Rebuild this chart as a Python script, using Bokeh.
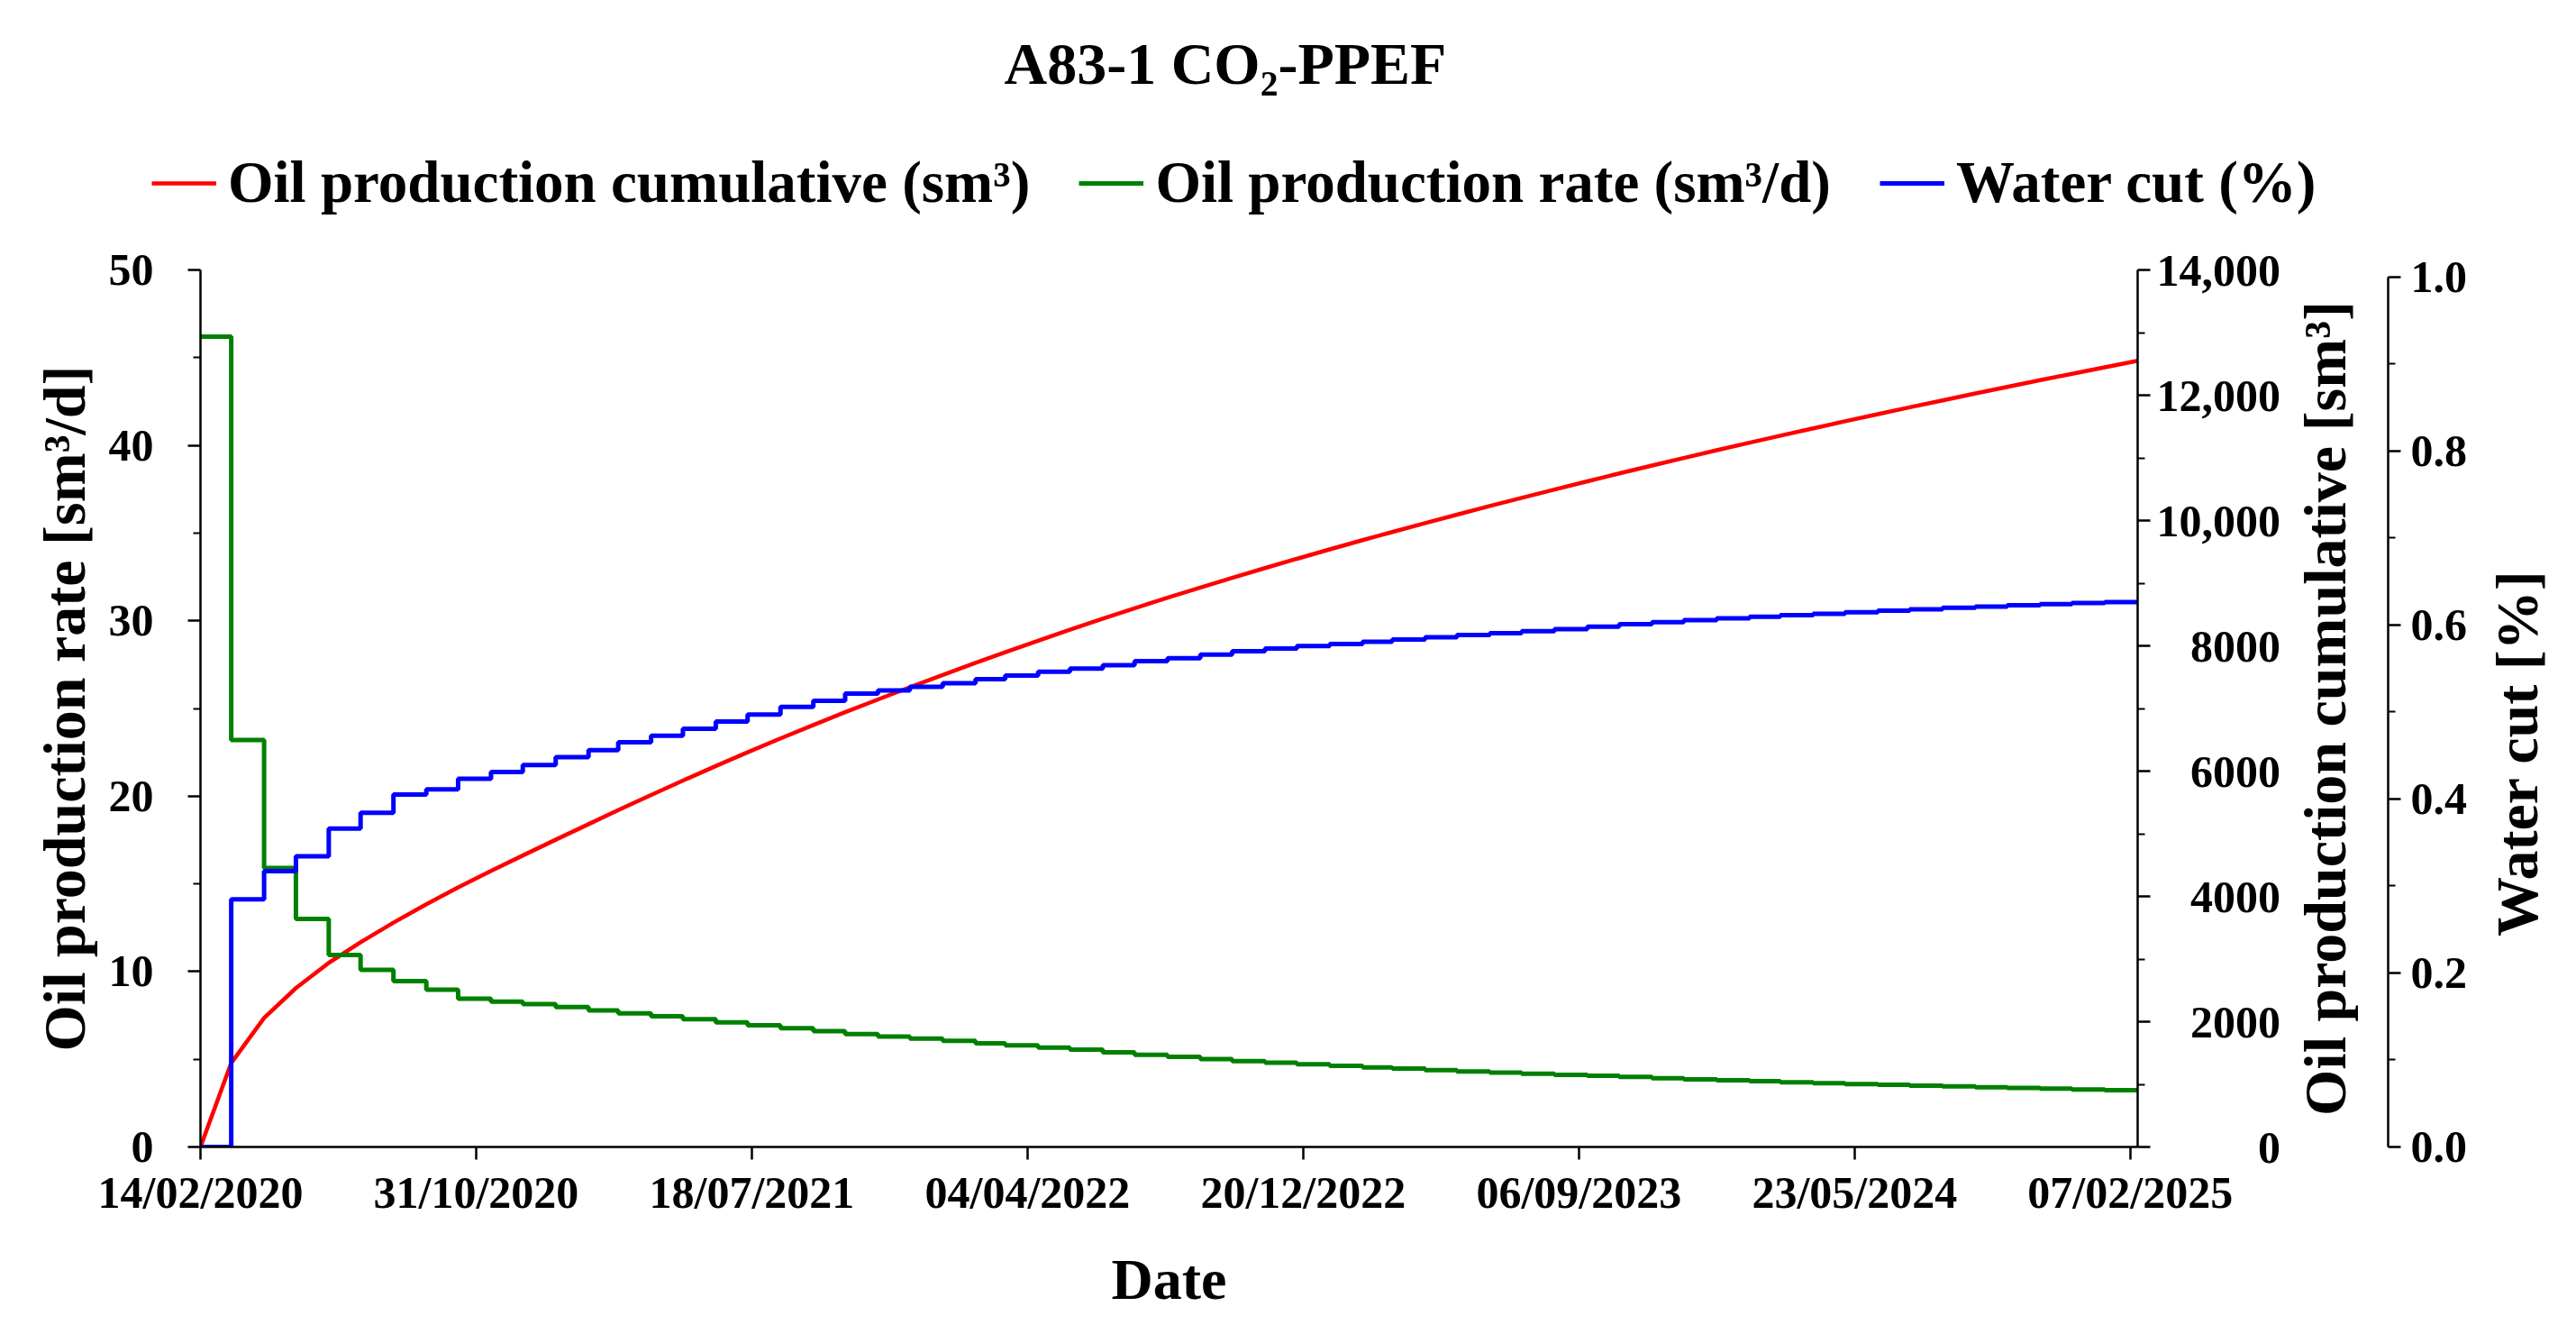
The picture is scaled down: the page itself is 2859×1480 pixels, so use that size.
import pandas as pd
from bokeh.plotting import figure
from bokeh.layouts import column, row
from bokeh.models import (Range1d, LinearAxis, FixedTicker, Legend, LegendItem,
                          DatetimeTickFormatter)
from bokeh.embed import file_html
from bokeh.resources import INLINE

# ---------------- data ----------------
start_date = "2020-02-14"
end_date = "2025-02-14"
n_months = 60
x_tick_labels = ["14/02/2020", "31/10/2020", "18/07/2021", "04/04/2022",
                 "20/12/2022", "06/09/2023", "23/05/2024", "07/02/2025"]

# monthly oil production rate (sm3/d), one value per month
oil_rate = [46.2, 23.2, 15.9, 13.0, 10.95, 10.1, 9.45, 8.97, 8.45, 8.28, 8.14, 7.98,
            7.78, 7.62, 7.45, 7.28, 7.11, 6.94, 6.77, 6.60, 6.43, 6.30, 6.18, 6.05,
            5.91, 5.79, 5.67, 5.55, 5.40, 5.26, 5.14, 5.01, 4.90, 4.81, 4.72, 4.62,
            4.53, 4.47, 4.38, 4.31, 4.24, 4.17, 4.11, 4.06, 3.99, 3.92, 3.86, 3.80,
            3.75, 3.69, 3.64, 3.59, 3.54, 3.49, 3.45, 3.40, 3.36, 3.33, 3.28, 3.24]

# monthly water cut (fraction)
water_cut = [0.0, 0.2845, 0.317, 0.334, 0.366, 0.384, 0.405, 0.411, 0.423, 0.431, 0.439, 0.448,
             0.456, 0.465, 0.4725, 0.4805, 0.489, 0.497, 0.5057, 0.5126, 0.5209, 0.5247, 0.5288, 0.533,
             0.5375, 0.5417, 0.5461, 0.5497, 0.5537, 0.5582, 0.5617, 0.5658, 0.5696, 0.5727, 0.5755, 0.5779,
             0.5806, 0.5831, 0.5858, 0.5883, 0.5904, 0.5927, 0.5951, 0.5979, 0.6007, 0.6031, 0.6055, 0.6076,
             0.6093, 0.6111, 0.6127, 0.6145, 0.6162, 0.6179, 0.6197, 0.6210, 0.6224, 0.6238, 0.6251, 0.6262]

# cumulative oil production (sm3) at each month boundary
oil_cum = [0, 1340, 2059, 2536, 2939, 3268, 3581, 3874, 4143, 4405, 4653, 4905, 5153,
           5377, 5619, 5849, 6081, 6300, 6521, 6736, 6940, 7144, 7338, 7535, 7727,
           7898, 8082, 8256, 8433, 8600, 8767, 8931, 9085, 9241, 9389, 9540, 9687,
           9817, 9959, 10094, 10232, 10362, 10495, 10626, 10751, 10878, 10999, 11122, 11243,
           11354, 11472, 11584, 11698, 11807, 11918, 12028, 12133, 12240, 12342, 12447, 12550]

rate_ticks = [0, 10, 20, 30, 40, 50]
rate_minor = [5, 15, 25, 35, 45]
cum_ticks = [0, 2000, 4000, 6000, 8000, 10000, 12000, 14000]
cum_tick_labels = ["0", "2000", "4000", "6000", "8000", "10,000", "12,000", "14,000"]
cum_minor = [1000, 3000, 5000, 7000, 9000, 11000, 13000]
wc_ticks = [0.0, 0.2, 0.4, 0.6, 0.8, 1.0]
wc_tick_labels = ["0.0", "0.2", "0.4", "0.6", "0.8", "1.0"]
wc_minor = [0.1, 0.3, 0.5, 0.7, 0.9]

legend_labels = ["Oil production cumulative (sm³)", "Oil production rate (sm³/d)", "Water cut (%)"]
title_text = "A83-1 CO₂-PPEF"
x_label = "Date"
rate_label = "Oil production rate [sm³/d]"
cum_label = "Oil production cumulative [sm³]"
wc_label = "Water cut [%]"

colors = {"cum": "#ff0000", "rate": "#008000", "wc": "#0000ff"}
widths = {"cum": 4.5, "rate": 5, "wc": 5}

# ---------------- layout constants (page pixels) ----------------
FONT = "Liberation Serif"
W, H = 2843, 1464
HEAD_H = 250                      # header (title + legend) height
FL, FR, FT, FB = 222, 2372, 299, 1272   # main frame edges
MAIN_W = 2540
R2_W, R2_FL, WC_X = 210, 2630, 2650     # panel holding cumulative title + water-cut axis
R3_W = W - MAIN_W - R2_W
ROW_H = H - HEAD_H
FS, PS = "\u2007", "\u2008"   # figure / punctuation spaces


def style(ax, label_size="66px"):
    ax.axis_line_color = "black"
    ax.axis_line_width = 2.5
    ax.major_tick_line_color = "black"
    ax.minor_tick_line_color = "black"
    ax.major_tick_line_width = 2.5
    ax.minor_tick_line_width = 2
    ax.major_tick_in = 0
    ax.major_tick_out = 14
    ax.minor_tick_in = 0
    ax.minor_tick_out = 8
    ax.major_label_text_font = FONT
    ax.major_label_text_font_style = "bold"
    ax.major_label_text_font_size = "50px"
    ax.major_label_text_color = "black"
    ax.axis_label_text_font = FONT
    ax.axis_label_text_font_style = "bold"
    ax.axis_label_text_font_size = label_size
    ax.axis_label_text_color = "black"


def title_only_axis(text, standoff):
    ax = LinearAxis(ticker=FixedTicker(ticks=[]), axis_label=text)
    style(ax)
    ax.axis_line_color = None
    ax.major_tick_line_color = None
    ax.minor_tick_line_color = None
    ax.major_tick_out = 0
    ax.minor_tick_out = 0
    ax.major_label_standoff = 0
    ax.axis_label_standoff = standoff
    return ax


def blank(fig):
    fig.outline_line_color = None
    fig.background_fill_color = "white"
    fig.border_fill_color = "white"
    fig.grid.visible = False


# ---------------- main plot ----------------
months = pd.date_range(start_date, periods=n_months + 1, freq=pd.DateOffset(months=1))
x_ticks = [pd.to_datetime(s, format="%d/%m/%Y") for s in x_tick_labels]
x_tick_ms = [t.value / 1e6 for t in x_ticks]
t0, t1 = pd.Timestamp(start_date), pd.Timestamp(end_date)

p = figure(width=MAIN_W, height=ROW_H, x_axis_type="datetime",
           output_backend="svg", toolbar_location=None,
           x_range=Range1d(t0, t1), y_range=Range1d(0, 50),
           min_border_left=FL, min_border_right=MAIN_W - FR,
           min_border_top=FT - HEAD_H, min_border_bottom=H - FB)
blank(p)
p.extra_y_ranges = {"cum": Range1d(0, 14000), "wc": Range1d(0, 1.0078)}

rate_y = oil_rate + [oil_rate[-1]]
wc_y = water_cut + [water_cut[-1]]
r_cum = p.line(months, oil_cum, line_color=colors["cum"], line_width=widths["cum"], y_range_name="cum")
r_rate = p.step(months, rate_y, mode="after", line_color=colors["rate"], line_width=widths["rate"])
r_wc = p.step(months, wc_y, mode="after", line_color=colors["wc"], line_width=widths["wc"],
              y_range_name="wc")

xa = p.xaxis[0]
style(xa, "64px")
xa.ticker = FixedTicker(ticks=x_tick_ms)
fmt = "%d/%m/%Y"
xa.formatter = DatetimeTickFormatter(microseconds=fmt, milliseconds=fmt, seconds=fmt, minsec=fmt,
                                     minutes=fmt, hourmin=fmt, hours=fmt, days=fmt,
                                     months=fmt, years=fmt)
xa.axis_label = x_label
xa.major_label_standoff = 8
xa.axis_label_standoff = 30

ya = p.yaxis[0]
style(ya)
ya.ticker = FixedTicker(ticks=rate_ticks, minor_ticks=rate_minor)
ya.axis_label = rate_label
ya.major_label_standoff = 38
ya.axis_label_standoff = 10


def pad(lbl, ref="14,000"):
    nd = sum(c.isdigit() for c in ref) - sum(c.isdigit() for c in lbl)
    nc = ref.count(",") - lbl.count(",")
    return FS * nd + PS * nc + lbl


cum_axis = LinearAxis(y_range_name="cum",
                      ticker=FixedTicker(ticks=cum_ticks, minor_ticks=cum_minor),
                      major_label_overrides={t: pad(l) for t, l in zip(cum_ticks, cum_tick_labels)})
style(cum_axis)
cum_axis.major_label_standoff = 7
p.add_layout(cum_axis, "right")

# ---------------- right panel 2: cumulative title + water-cut axis ----------------
r2 = figure(width=R2_W, height=ROW_H, output_backend="svg", toolbar_location=None,
            x_range=Range1d(0, 1), y_range=Range1d(0, 1.0078),
            x_axis_location=None, y_axis_location=None,
            min_border_left=R2_FL - MAIN_W, min_border_right=MAIN_W + R2_W - WC_X,
            min_border_top=FT - HEAD_H, min_border_bottom=H - FB)
blank(r2)
r2.add_layout(title_only_axis(cum_label, 18), "left")
wc_axis = LinearAxis(bounds=(0, 1),
                     ticker=FixedTicker(ticks=wc_ticks, minor_ticks=wc_minor),
                     major_label_overrides={t: l for t, l in zip(wc_ticks, wc_tick_labels)})
style(wc_axis)
wc_axis.major_label_standoff = 11
r2.add_layout(wc_axis, "right")

# ---------------- right panel 3: water-cut title (shifted down with trailing figure spaces) ----------------
R3_FL = 2835
r3 = figure(width=R3_W, height=ROW_H, output_backend="svg", toolbar_location=None,
            x_range=Range1d(0, 1), y_range=Range1d(0, 1),
            x_axis_location=None, y_axis_location=None,
            min_border_left=R3_FL - MAIN_W - R2_W, min_border_right=0,
            min_border_top=FT - HEAD_H, min_border_bottom=H - FB)
blank(r3)
r3.add_layout(title_only_axis(wc_label + FS * 3, 6), "left")

# ---------------- header: title + legend ----------------
head = figure(width=W, height=HEAD_H, output_backend="svg", toolbar_location=None,
              x_range=Range1d(0, 1), y_range=Range1d(0, 1),
              x_axis_location=None, y_axis_location=None,
              min_border_left=0, min_border_right=0, min_border_top=106, min_border_bottom=0)
blank(head)
nan = float("nan")
leg_r = [head.line([nan], [nan], line_color=colors[k], line_width=widths[k]) for k in ("cum", "rate", "wc")]
legend = Legend(items=[LegendItem(label=l, renderers=[r]) for l, r in zip(legend_labels, leg_r)],
                orientation="horizontal", location=(168, 10),
                label_text_font=FONT, label_text_font_style="bold",
                label_text_font_size="65px", label_text_color="black",
                glyph_width=72, glyph_height=20, label_standoff=13, spacing=54,
                padding=0, margin=0, border_line_color=None, background_fill_alpha=0)
head.add_layout(legend)
head.title.text = title_text
head.title.align = "left"
head.title.offset = 1114
head.title.standoff = 0
head.title.text_font = FONT
head.title.text_font_style = "bold"
head.title.text_font_size = "66px"
head.title.text_color = "black"

page = column(head, row(p, r2, r3, spacing=0), spacing=0)
open("out.html", "w").write(file_html(page, INLINE))
